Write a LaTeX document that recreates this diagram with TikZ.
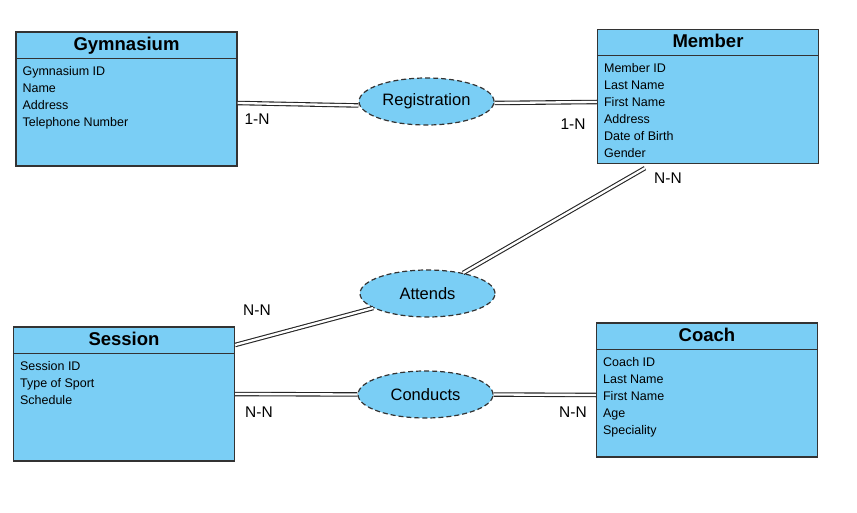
\documentclass[tikz,border=0pt]{standalone}
\usepackage{fontspec}
\setmainfont{Liberation Sans}
\usetikzlibrary{calc,shapes.geometric}
\definecolor{erblue}{RGB}{122,206,245}
\definecolor{erline}{RGB}{51,51,51}
\tikzset{
	entity/.style={draw=erline, line width=1.2pt, fill=erblue, minimum width=221pt, minimum height=134pt, inner sep=0pt},
	etitle/.style={anchor=base, inner sep=0pt, font=\bfseries\fontsize{18.5}{20}\selectfont},
	attr/.style={anchor=base west, inner sep=0pt, text=black, font=\fontsize{12.5}{15}\selectfont},
	relation/.style={ellipse, draw=erline, line width=1.2pt, dash pattern=on 5pt off 3pt, fill=erblue, minimum width=135pt, minimum height=47pt, inner sep=0pt, font=\fontsize{16.5}{18}\selectfont},
	link/.style={draw=black!85, line width=1.1pt, double=white, double distance=2.3pt},
	card/.style={inner sep=0pt, text=black, font=\fontsize{15.5}{17}\selectfont}
}
\def\entitybox(#1)(#2)#3#4{%
	\node[entity] (#1) at (#2) {};
	\draw[erline, line width=1.2pt] ($(#1.north west)+(0,27)$) -- ($(#1.north east)+(0,27)$);
	\node[etitle] (#1-title) at ($(#1.north)+(0,19)$) {#3};
	\foreach \attrname [count=\i] in {#4}
		\node[attr] (#1-a\i) at ($(#1.north west)+(7,{44+17*(\i-1)})$) {\attrname};
}

\begin{document}
\begin{tikzpicture}[x=1pt, y=-1pt]
			%%%%% START %%%%%
			
			\useasboundingbox (0,0) rectangle (857,513);
			
			\entitybox(gym)(126.5,99){Gymnasium}{Gymnasium ID, Name, Address, Telephone Number}
			\entitybox(mem)(708,96.5){Member}{Member ID, Last Name, First Name, Address, Date of Birth, Gender}
			\entitybox(ses)(124,394){Session}{Session ID, Type of Sport, Schedule}
			\entitybox(coach)(707,390){Coach}{Coach ID, Last Name, First Name, Age, Speciality}
			
			\node[relation] (reg) at (426.5,101.5) {Registration};
			\node[relation] (att) at (427.5,293.5) {Attends};
			\node[relation] (con) at (425.5,394.5) {Conducts};
			
			\draw[link] ($(gym.east)+(0,4)$) -- ($(reg.west)+(0,4)$);
			\draw[link] ($(reg.east)+(0,1.5)$) -- ($(mem.west)+(0,5.5)$);
			\draw[link] ($(mem.south)+(-63,4)$) -- (att);
			\draw[link] ($(ses.east)+(0,-49)$) -- (att);
			\draw[link] (ses.east) -- (con.west);
			\draw[link] (con.east) -- ($(coach.west)+(0,5)$);
			
			\node[card] (gymcard) at (257,119) {1-N};
			\node[card] (memcard) at (573,124) {1-N};
			\node[card] (attmem) at (668,178) {N-N};
			\node[card] (attses) at (257,310) {N-N};
			\node[card] (conses) at (259,412) {N-N};
			\node[card] (concoach) at (573,412) {N-N};
			
			%%%%% END %%%%%
\end{tikzpicture}
\end{document}
